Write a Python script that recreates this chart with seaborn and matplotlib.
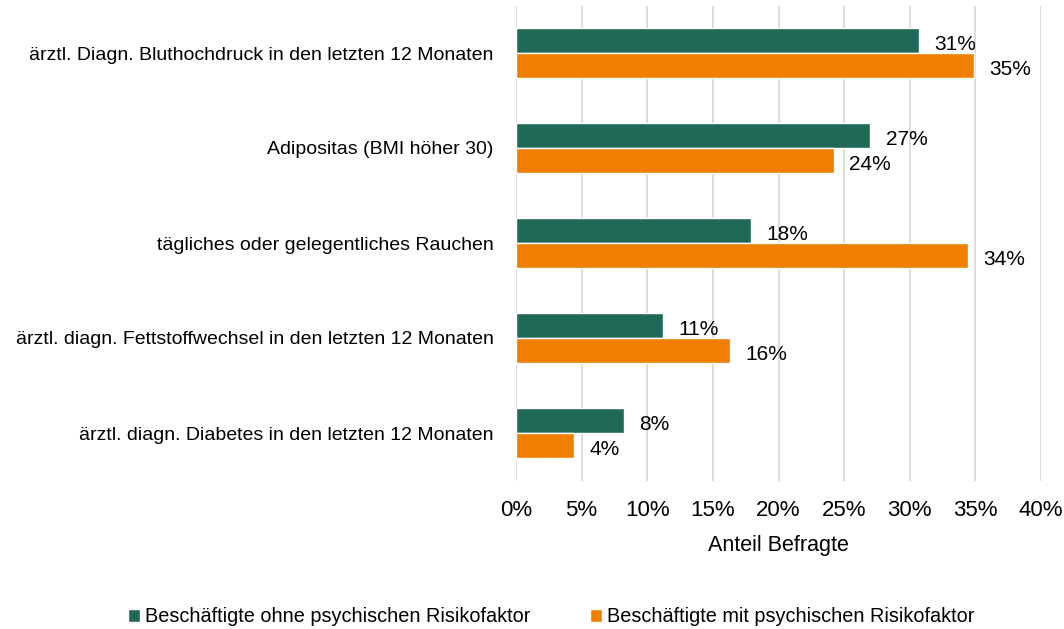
import matplotlib
matplotlib.use("Agg")
import matplotlib.pyplot as plt
import seaborn as sns
import pandas as pd
from matplotlib import font_manager

categories = [
    "ärztl. Diagn. Bluthochdruck in den letzten 12 Monaten",
    "Adipositas (BMI höher 30)",
    "tägliches oder gelegentliches Rauchen",
    "ärztl. diagn. Fettstoffwechsel in den letzten 12 Monaten",
    "ärztl. diagn. Diabetes in den letzten 12 Monaten",
]
series_names = [
    "Beschäftigte ohne psychischen Risikofaktor",
    "Beschäftigte mit psychischen Risikofaktor",
]
ohne = [30.7, 27.0, 17.9, 11.2, 8.2]
mit = [34.9, 24.2, 34.4, 16.3, 4.4]
colors = ["#216957", "#F07F00"]
xticks = [0, 5, 10, 15, 20, 25, 30, 35, 40]

df = pd.DataFrame({
    "Kategorie": categories * 2,
    "Gruppe": [series_names[0]] * len(categories) + [series_names[1]] * len(categories),
    "Wert": ohne + mit,
})

sns.set_theme(style="white")
avail = {f.name for f in font_manager.fontManager.ttflist}
fams = [f for f in ["Liberation Sans Narrow", "Liberation Sans", "DejaVu Sans"] if f in avail]
plt.rcParams["font.family"] = fams
for k in ["text.color", "axes.labelcolor", "xtick.color", "ytick.color"]:
    plt.rcParams[k] = "#000000"

fig = plt.figure(figsize=(10.64, 6.29), dpi=100)
ax = fig.add_axes([516 / 1064, 1 - 480.5 / 629, (1041 - 516) / 1064, 475 / 629])

sns.barplot(data=df, y="Kategorie", x="Wert", hue="Gruppe", order=categories,
            hue_order=series_names, palette=colors, orient="h", width=0.516,
            saturation=1, ax=ax, legend=True)

for cont in ax.containers:
    for p in cont.patches:
        w = p.get_width()
        ax.annotate(f"{w:.0f}%", (w, p.get_y() + p.get_height() / 2),
                    xytext=(11, -3), textcoords="offset points",
                    ha="left", va="center", fontsize=15, color="#000000")

ax.set_xlim(0, 40)
ax.set_xticks(xticks)
ax.set_xticklabels([f"{t}%" for t in xticks], fontsize=16)
ax.tick_params(axis="x", length=0, pad=14)
ax.tick_params(axis="y", length=0, pad=16, labelsize=14)
ax.set_ylabel("")
ax.set_xlabel("Anteil Befragte", fontsize=15.5, labelpad=10)
ax.grid(axis="x", color="#D9D9D9", linewidth=1.3)
ax.set_axisbelow(True)
for s in ax.spines.values():
    s.set_visible(False)

handles, labels = ax.get_legend_handles_labels()
ax.get_legend().remove()
fig.legend(handles, labels, loc="center", bbox_to_anchor=(551 / 1064, 1 - 617 / 629),
           ncol=2, frameon=False, fontsize=14.3, handlelength=0.6, handleheight=0.6,
           handletextpad=0.25, columnspacing=3.0, borderpad=0.2)

fig.savefig("out.png", dpi=100)
